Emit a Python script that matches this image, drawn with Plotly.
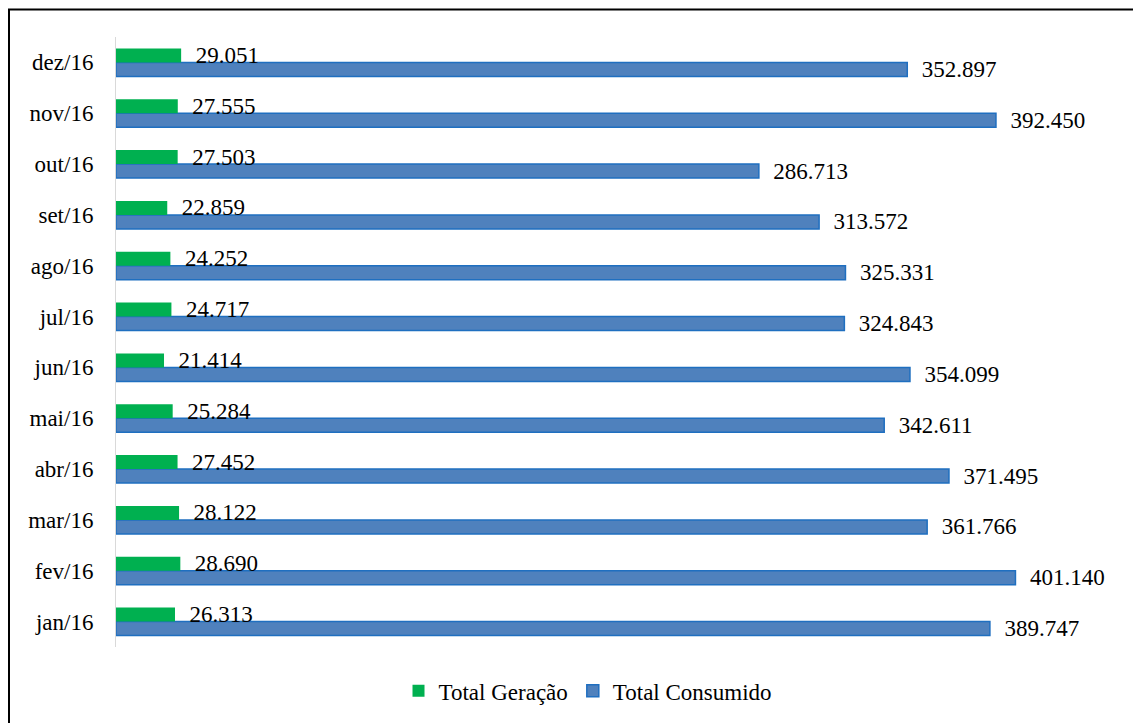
import plotly.graph_objects as go

months = ["jan/16", "fev/16", "mar/16", "abr/16", "mai/16", "jun/16",
          "jul/16", "ago/16", "set/16", "out/16", "nov/16", "dez/16"]
geracao = [26313, 28690, 28122, 27452, 25284, 21414, 24717, 24252, 22859, 27503, 27555, 29051]
consumido = [389747, 401140, 361766, 371495, 342611, 354099, 324843, 325331, 313572, 286713, 392450, 352897]

FONT = "Liberation Serif, Times New Roman, serif"
FS = 23

fig = go.Figure()
fig.add_trace(go.Bar(
    y=months, x=consumido, orientation="h", name="Total Consumido",
    marker=dict(color="#4F81BD", line=dict(color="#1F6FC0", width=1.5)),
    text=consumido, texttemplate="\u00a0\u00a0%{x:,}", textposition="outside",
    textfont=dict(family=FONT, size=FS, color="black"),
    constraintext="none", cliponaxis=False, legendrank=2,
))
fig.add_trace(go.Bar(
    y=months, x=geracao, orientation="h", name="Total Geração",
    marker=dict(color="#00B050", line=dict(width=0)),
    text=geracao, texttemplate="\u00a0\u00a0%{x:,}", textposition="outside",
    textfont=dict(family=FONT, size=FS, color="black"),
    constraintext="none", cliponaxis=False, legendrank=1,
))

L, T, PW, PH = 108, 29, 1009, 610
fig.update_layout(
    width=1141, height=723,
    margin=dict(l=L, r=1141 - L - PW, t=T, b=723 - T - PH),
    paper_bgcolor="white", plot_bgcolor="white",
    barmode="group", bargap=0.45, bargroupgap=0,
    separators=",.",
    font=dict(family=FONT, size=FS, color="black"),
    showlegend=True,
    legend=dict(orientation="h", x=0.4678, xanchor="center", y=-0.072, yanchor="middle",
                font=dict(family=FONT, size=FS, color="black"), itemwidth=30),
    xaxis=dict(range=[0, 450000], showgrid=False, zeroline=False, showticklabels=False,
               showline=False, fixedrange=True),
    yaxis=dict(categoryorder="array", categoryarray=months, range=[-0.5, 11.5],
               showline=True, linecolor="#D9D9D9", linewidth=1, showgrid=False,
               ticks="", ticklabelstandoff=17,
               tickfont=dict(family=FONT, size=FS, color="black")),
    shapes=[dict(type="rect", xref="paper", yref="paper",
                 x0=(1 - L) / PW, x1=1.2, y0=-0.3, y1=(T + PH - 1.5) / PH,
                 line=dict(color="black", width=2), fillcolor="rgba(0,0,0,0)", layer="above")],
)

fig.write_html("out.html")
